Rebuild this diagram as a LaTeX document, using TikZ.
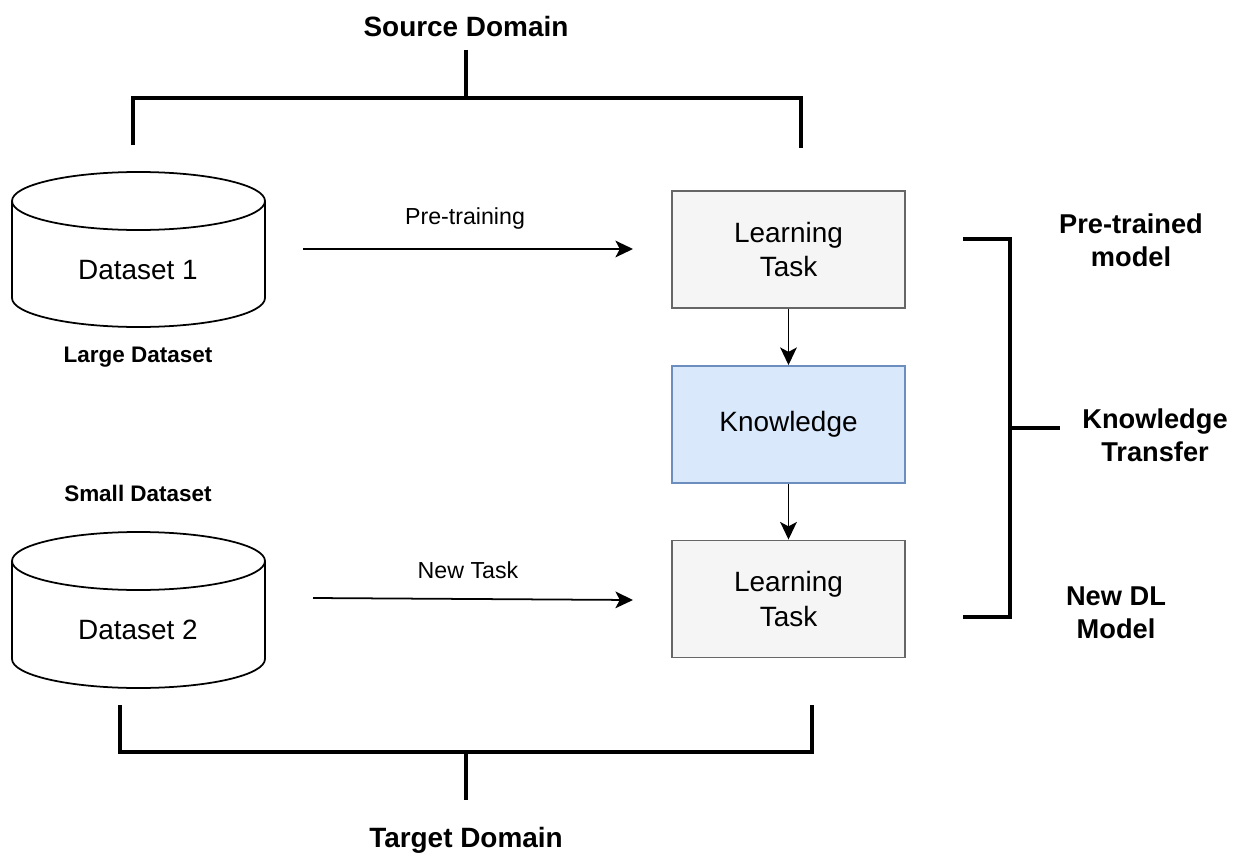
\documentclass[tikz,border=0pt]{standalone}
\usepackage{fontspec}
\setmainfont{Liberation Sans}
\usetikzlibrary{arrows.meta}
\definecolor{boxgray}{HTML}{F5F5F5}
\definecolor{boxgrayline}{HTML}{666666}
\definecolor{kfill}{HTML}{DAE8FC}
\definecolor{kline}{HTML}{6C8EBF}
\begin{document}
\begin{tikzpicture}[x=0.02cm,y=-0.02cm,
  taskbox/.style={draw=boxgrayline,fill=boxgray,line width=1.1pt,minimum width=233*0.02cm,minimum height=117*0.02cm,inner sep=0pt,align=center,font=\fontsize{15.9}{19.5}\selectfont},
  knowbox/.style={taskbox,draw=kline,fill=kfill},
  bracket/.style={line width=1.9pt},
  conn/.style={line width=1pt,-{Stealth[length=10pt,width=9.5pt,inset=2.5pt]}},
  cyl/.style={line width=1pt},
  biglabel/.style={font=\bfseries\fontsize{15.9}{19}\selectfont,align=center},
  sidelabel/.style={font=\bfseries\fontsize{15.5}{19}\selectfont,align=center},
  smalllabel/.style={font=\bfseries\fontsize{12.8}{15}\selectfont},
  arrlabel/.style={font=\fontsize{13.2}{15}\selectfont}
]
\useasboundingbox (0,0) rectangle (1248,862);

% titles
\node[biglabel] (src) at (466,27) {Source Domain};
\node[biglabel] (tgt) at (466,840) {Target Domain};

% top bracket
\coordinate (tb) at (466,50);
\draw[bracket] (tb) -- (466,98);
\draw[bracket] (133,145) -- (133,98) -- (801,98) -- (801,148);

% bottom bracket
\coordinate (bb) at (466,800);
\draw[bracket] (120,705) -- (120,752) -- (812,752) -- (812,705);
\draw[bracket] (466,752) -- (bb);

% cylinders
\draw[cyl,fill=white] (12,201) -- (12,298) arc[start angle=180,end angle=0,x radius=126.5,y radius=29] -- (265,201);
\draw[cyl] (138.5,201) ellipse[x radius=126.5,y radius=29];
\node[font=\fontsize{15.9}{18.5}\selectfont] (d1) at (138,270) {Dataset 1};
\node[smalllabel] (l1) at (138,357) {Large Dataset};

\draw[cyl,fill=white] (12,561) -- (12,659) arc[start angle=180,end angle=0,x radius=126.5,y radius=29] -- (265,561);
\draw[cyl] (138.5,561) ellipse[x radius=126.5,y radius=29];
\node[font=\fontsize{15.9}{18.5}\selectfont] (d2) at (138,630) {Dataset 2};
\node[smalllabel] (l2) at (138,493) {Small Dataset};

% boxes
\node[taskbox] (lt1) at (788.5,249.5) {Learning\\Task};
\node[knowbox] (kn) at (788.5,424.5) {Knowledge};
\node[taskbox] (lt2) at (788.5,599) {Learning\\Task};

\draw[conn] (lt1.south) -- (kn.north);
\draw[conn] (kn.south) -- (lt2.north);

% horizontal arrows
\coordinate (a1s) at (303,249);
\coordinate (a1e) at (633,249);
\draw[conn] (a1s) -- (a1e);
\node[arrlabel] (pt) at (465,219) {Pre-training};
\coordinate (a2s) at (313,598);
\coordinate (a2e) at (633,600);
\draw[conn] (a2s) -- (a2e);
\node[arrlabel] (nt) at (468,570) {New Task};

% right bracket
\draw[bracket] (963,239) -- (1010,239) -- (1010,617) -- (963,617);
\draw[bracket] (1010,428) -- (1060,428);
\node[sidelabel] (ptm) at (1131,240) {Pre-trained\\model};
\node[sidelabel] (kt) at (1155,435) {Knowledge\\Transfer};
\node[sidelabel] (ndl) at (1116,613) {New DL\\Model};
\end{tikzpicture}
\end{document}
